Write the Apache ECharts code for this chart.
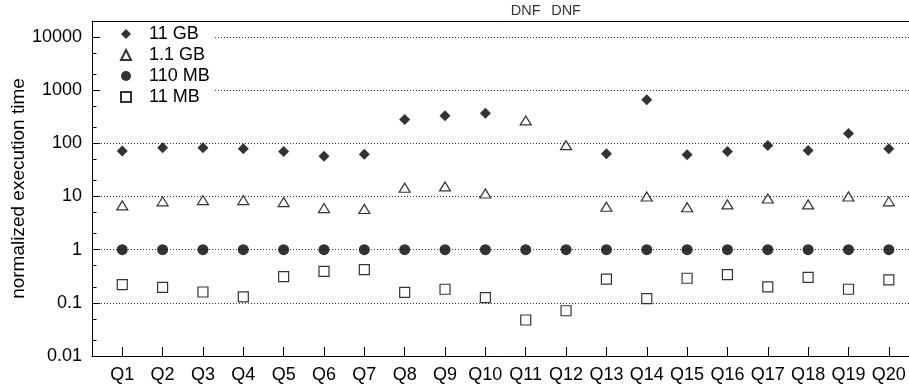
<!DOCTYPE html>
<html>
<head>
<meta charset="utf-8">
<script src="https://cdn.jsdelivr.net/npm/echarts@6/dist/echarts.min.js"></script>
<style>
html,body{margin:0;padding:0;background:#fff;}
#c{width:909px;height:385px;}
</style>
</head>
<body>
<div id="c"></div>
<script>
const categories = ['Q1','Q2','Q3','Q4','Q5','Q6','Q7','Q8','Q9','Q10','Q11','Q12','Q13','Q14','Q15','Q16','Q17','Q18','Q19','Q20'];
const gb11  = [72, 83, 83, 79, 70, 57, 62, 281, 330, 370, null, null, 64, 660, 61, 70, 91, 73, 153, 79];
const gb1_1 = [6.8, 8.1, 8.55, 8.55, 7.85, 6.05, 5.8, 14.6, 15.5, 11.4, 270, 92.5, 6.4, 10, 6.3, 7.1, 9.2, 7.1, 10, 8.1];
const mb110 = [1, 1, 1, 1, 1, 1, 1, 1, 1, 1, 1, 1, 1, 1, 1, 1, 1, 1, 1, 1];
const mb11  = [0.22, 0.195, 0.16, 0.13, 0.31, 0.39, 0.42, 0.157, 0.18, 0.125, 0.0475, 0.071, 0.28, 0.12, 0.29, 0.34, 0.20, 0.30, 0.18, 0.27];
const dnfCategories = ['Q11', 'Q12'];
const dnfText = 'DNF';
const seriesNames = ['11 GB', '1.1 GB', '110 MB', '11 MB'];
const yTickValues = [0.01, 0.1, 1, 10, 100, 1000, 10000];
const yTickLabels = ['0.01', '0.1', '1', '10', '100', '1000', '10000'];
const yMinorTicks = [0.02, 0.05, 0.2, 0.5, 2, 5, 20, 50, 200, 500, 2000, 5000];
const yMin = 0.01, yMax = 20000;
const yTitle = 'normalized execution time';

const FONT = "'Liberation Sans', Arial, Helvetica, sans-serif";
const catPos = categories.map((c, i) => i + 1);
function toPts(arr) {
  const out = [];
  arr.forEach((v, i) => { if (v !== null) out.push([i + 1, v]); });
  return out;
}

const chart = echarts.init(document.getElementById('c'), null, {renderer: 'canvas'});
chart.setOption({
  animation: false,
  backgroundColor: '#fff',
  textStyle: {fontFamily: FONT},
  grid: {left: 92, right: 0, top: 21, bottom: 29, containLabel: false, outerBoundsMode: 'none'},
  legend: {
    data: seriesNames,
    orient: 'vertical',
    left: 100, top: 22,
    padding: [3, 4, 3, 20],
    itemWidth: 10, itemHeight: 10, itemGap: 3,
    symbolKeepAspect: true,
    backgroundColor: '#fff',
    textStyle: {fontFamily: FONT, fontSize: 18, color: '#000', padding: [0, 0, 0, 13]}
  },
  xAxis: [{
    type: 'value', min: 0.25, max: 20.5,
    axisLine: {show: true, lineStyle: {color: '#000', width: 1}},
    axisTick: {show: true, inside: true, length: 9, customValues: catPos, lineStyle: {color: '#000'}},
    axisLabel: {show: true, customValues: catPos, margin: 10, fontSize: 18, color: '#000', fontFamily: FONT,
      formatter: v => categories[Math.round(v) - 1] || ''},
    splitLine: {show: false}
  }, {
    type: 'value', min: 0.25, max: 20.5, position: 'top',
    axisLine: {show: true, onZero: false, lineStyle: {color: '#000', width: 1}},
    axisTick: {show: false}, axisLabel: {show: false}, splitLine: {show: false}
  }],
  yAxis: [{
    type: 'log', logBase: 10, min: yMin, max: yMax,
    name: yTitle, nameLocation: 'middle', nameGap: 64, nameMoveOverlap: false,
    nameTextStyle: {fontSize: 19, color: '#000', fontFamily: FONT},
    axisLine: {show: true, lineStyle: {color: '#000', width: 1}},
    axisTick: {show: true, inside: true, length: 8, customValues: yTickValues, lineStyle: {color: '#000'}},
    axisLabel: {show: true, customValues: yTickValues, margin: 10, fontSize: 18, color: '#000', fontFamily: FONT,
      formatter: v => { const k = Math.round(Math.log10(v)) + 2; return yTickLabels[k] || ''; }},
    splitLine: {show: true, lineStyle: {color: '#333', width: 1, type: [1, 2]}}
  }, {
    type: 'log', logBase: 10, min: yMin, max: yMax, position: 'left',
    axisLine: {show: false},
    axisTick: {show: true, inside: true, length: 4.5, customValues: yMinorTicks, lineStyle: {color: '#000'}},
    axisLabel: {show: false}, splitLine: {show: false}
  }],
  series: [{
    name: seriesNames[0], type: 'scatter', xAxisIndex: 0, yAxisIndex: 0,
    symbol: 'diamond', symbolSize: 11,
    itemStyle: {color: '#000'},
    data: toPts(gb11)
  }, {
    name: seriesNames[1], type: 'scatter', xAxisIndex: 0, yAxisIndex: 0,
    symbol: 'triangle', symbolSize: [11, 9],
    itemStyle: {color: '#fff', borderColor: '#000', borderWidth: 1.2},
    data: toPts(gb1_1)
  }, {
    name: seriesNames[2], type: 'scatter', xAxisIndex: 0, yAxisIndex: 0,
    symbol: 'circle', symbolSize: 11,
    itemStyle: {color: '#000'},
    data: toPts(mb110)
  }, {
    name: seriesNames[3], type: 'scatter', xAxisIndex: 0, yAxisIndex: 0,
    symbol: 'rect', symbolSize: 10,
    itemStyle: {color: '#fff', borderColor: '#000', borderWidth: 1.2},
    data: toPts(mb11)
  }, {
    name: 'DNF', type: 'scatter', xAxisIndex: 0, yAxisIndex: 0,
    symbolSize: 0, clip: false, silent: true,
    label: {show: true, position: 'top', distance: 3, formatter: dnfText,
      fontSize: 14.5, color: '#000', fontFamily: FONT},
    data: dnfCategories.map(c => [categories.indexOf(c) + 1, yMax])
  }]
});
</script>
</body>
</html>
